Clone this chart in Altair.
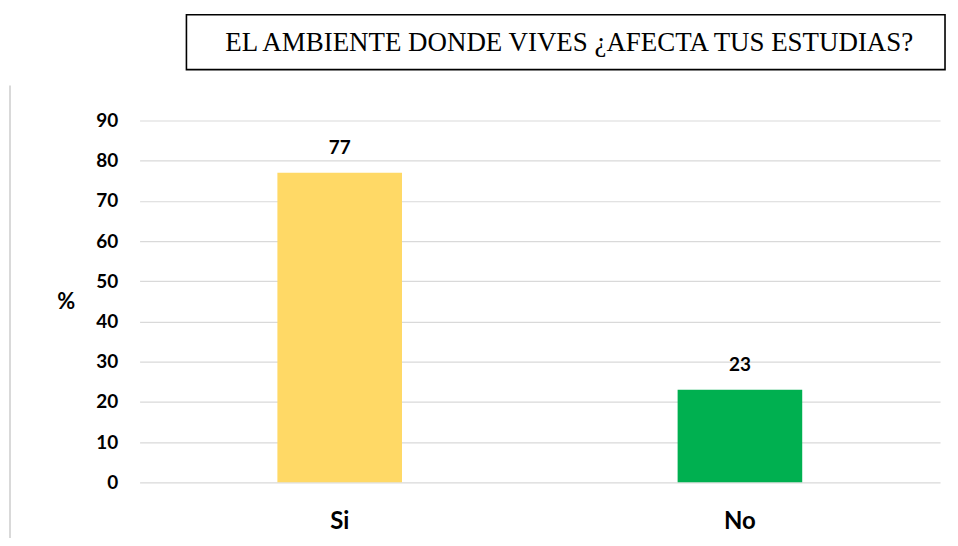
import altair as alt
import pandas as pd

categories = ["Si", "No"]
values = [77, 23]
colors = ["#FFD966", "#00B050"]
title_text = "EL AMBIENTE DONDE VIVES ¿AFECTA TUS ESTUDIAS?"
y_ticks = [0, 10, 20, 30, 40, 50, 60, 70, 80, 90]

df = pd.DataFrame({"cat": categories, "val": values, "color": colors})

W, H = 803, 363
LBL_FONT = "Lato"

x_enc = alt.X("cat:N", sort=categories,
              scale=alt.Scale(paddingInner=0, paddingOuter=0),
              axis=alt.Axis(title=None, labelAngle=0, domain=False, ticks=False, grid=False,
                            labelFont=LBL_FONT, labelFontSize=24, labelFontWeight="bold",
                            labelColor="#000000", labelPadding=27))
y_enc = alt.Y("val:Q", scale=alt.Scale(domain=[0, 90], nice=False),
              axis=alt.Axis(values=y_ticks, title="%", titleAngle=0,
                            titleFont=LBL_FONT, titleFontSize=22, titleFontWeight="bold",
                            titleColor="#000000", titleX=-74, titleY=H / 2,
                            titleAlign="center", titleBaseline="middle",
                            domain=False, ticks=False, labelPadding=22,
                            labelFont=LBL_FONT, labelFontSize=19, labelFontWeight="bold",
                            labelColor="#000000", gridColor="#d9d9d9", gridWidth=1.2))

bars = alt.Chart(df).mark_bar(size=125).encode(
    x=x_enc, y=y_enc,
    color=alt.Color("color:N", scale=None),
)

labels = alt.Chart(df).mark_text(
    baseline="bottom", dy=-15, font=LBL_FONT, fontSize=19, fontWeight="bold", color="#000000"
).encode(x=alt.X("cat:N", sort=categories), y="val:Q", text="val:Q")

box = alt.Chart(pd.DataFrame({"t": [title_text]})).mark_rect(
    fill="white", stroke="#000000", strokeWidth=1.6
).encode(x=alt.value(47), x2=alt.value(808), y=alt.value(-106), y2=alt.value(-51))

title = alt.Chart(pd.DataFrame({"t": [title_text]})).mark_text(
    font="Liberation Serif", fontSize=27, color="#000000", align="center", baseline="middle"
).encode(x=alt.value(431), y=alt.value(-78), text="t:N")

left_line = alt.Chart(pd.DataFrame({"t": [0]})).mark_rule(
    color="#d9d9d9", strokeWidth=2
).encode(x=alt.value(-130), y=alt.value(-35), y2=alt.value(426))

chart = alt.layer(bars, labels, box, title, left_line).properties(
    width=W, height=H,
    background="white",
    autosize=alt.AutoSizeParams(type="none"),
    padding={"left": 132, "top": 112, "right": 10, "bottom": 55},
).configure_view(strokeWidth=0, stroke="transparent")

chart.save("out.html", embed_options={"renderer": "svg", "actions": False})
